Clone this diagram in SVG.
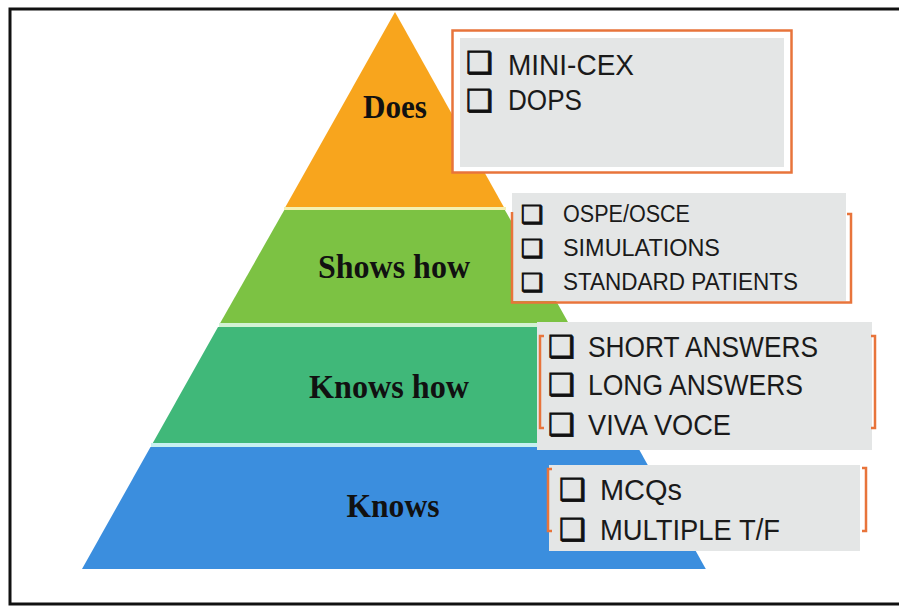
<svg xmlns="http://www.w3.org/2000/svg" width="899" height="608" viewBox="0 0 899 608">
<style>
.lvl{font-family:"Liberation Serif","Times New Roman",serif;font-weight:bold;fill:#111;text-anchor:middle}
.item{font-family:"Liberation Sans",Arial,sans-serif;fill:#1a1a1a}
.cb{font-family:"DejaVu Sans",sans-serif;font-weight:bold;fill:#111;stroke:#111;stroke-width:0.9}
.box{fill:#E4E6E6}
.brk{fill:none;stroke:#E8743B;stroke-width:2.5}
</style>
<rect x="0" y="0" width="899" height="608" fill="#fff"/>
<rect x="10" y="9" width="900" height="595" fill="#fff" stroke="#111" stroke-width="3"/>
<g id="pyramid">
  <g id="does"><polygon points="395,12 503.8,207 285.4,207" fill="#F8A51D"/>
    <text class="lvl" x="395" y="118" font-size="34" textLength="64" lengthAdjust="spacingAndGlyphs">Does</text></g>
  <rect x="284" y="207" width="222" height="3" fill="#F4F0B0"/>
  <g id="shows-how"><polygon points="284.3,210 504.9,210 568.5,323 220.2,323" fill="#7CC243"/>
    <text class="lvl" x="394" y="278" font-size="33" textLength="152" lengthAdjust="spacingAndGlyphs">Shows how</text></g>
  <rect x="219" y="323" width="352" height="4" fill="#D2F2D4"/>
  <g id="knows-how"><polygon points="218,327 570.8,327 635.5,443 152.8,443" fill="#40B879"/>
    <text class="lvl" x="389" y="398" font-size="33" textLength="160" lengthAdjust="spacingAndGlyphs">Knows how</text></g>
  <rect x="151" y="443" width="486" height="4" fill="#C8F0F0"/>
  <g id="knows"><polygon points="150.5,447 637.7,447 705.8,569 82,569" fill="#3B8EDE"/>
    <text class="lvl" x="393" y="517" font-size="33" textLength="93" lengthAdjust="spacingAndGlyphs">Knows</text></g>
</g>
<g id="box-does">
  <rect x="452.5" y="30.5" width="339" height="142" fill="#fff" stroke="#E8743B" stroke-width="2.5"/>
  <rect class="box" x="460" y="38" width="324" height="129"/>
  <text class="cb" x="466" y="73" font-size="30">❑</text>
  <text class="item" x="508" y="75" font-size="30" textLength="126" lengthAdjust="spacingAndGlyphs">MINI-CEX</text>
  <text class="cb" x="466" y="111" font-size="30">❑</text>
  <text class="item" x="508" y="110" font-size="30" textLength="74" lengthAdjust="spacingAndGlyphs">DOPS</text>
</g>
<g id="box-shows-how">
  <rect class="box" x="512" y="193" width="334" height="108"/>
  <path class="brk" d="M512,212 V302.5 H851 V214 H847"/>
  <text class="cb" x="521" y="223" font-size="25">❑</text>
  <text class="item" x="563" y="222" font-size="23" textLength="127" lengthAdjust="spacingAndGlyphs">OSPE/OSCE</text>
  <text class="cb" x="521" y="257" font-size="25">❑</text>
  <text class="item" x="563" y="256" font-size="23" textLength="157" lengthAdjust="spacingAndGlyphs">SIMULATIONS</text>
  <text class="cb" x="521" y="291" font-size="25">❑</text>
  <text class="item" x="563" y="290" font-size="23" textLength="235" lengthAdjust="spacingAndGlyphs">STANDARD PATIENTS</text>
</g>
<g id="box-knows-how">
  <rect class="box" x="537" y="322" width="335" height="128"/>
  <path class="brk" d="M544,336 H540 V428 H544"/>
  <path class="brk" d="M871,336 H875 V428 H871"/>
  <text class="cb" x="548" y="357" font-size="30">❑</text>
  <text class="item" x="588" y="357" font-size="30" textLength="230" lengthAdjust="spacingAndGlyphs">SHORT ANSWERS</text>
  <text class="cb" x="548" y="395" font-size="30">❑</text>
  <text class="item" x="588" y="395" font-size="30" textLength="215" lengthAdjust="spacingAndGlyphs">LONG ANSWERS</text>
  <text class="cb" x="548" y="435" font-size="30">❑</text>
  <text class="item" x="588" y="435" font-size="30" textLength="143" lengthAdjust="spacingAndGlyphs">VIVA VOCE</text>
</g>
<g id="box-knows">
  <rect class="box" x="549" y="465" width="311" height="86"/>
  <path class="brk" d="M552,469 H548 V531 H552"/>
  <path class="brk" d="M862,468 H866 V531 H862"/>
  <text class="cb" x="559" y="500" font-size="30">❑</text>
  <text class="item" x="600" y="500" font-size="29" textLength="82" lengthAdjust="spacingAndGlyphs">MCQs</text>
  <text class="cb" x="559" y="540" font-size="30">❑</text>
  <text class="item" x="600" y="540" font-size="29" textLength="180" lengthAdjust="spacingAndGlyphs">MULTIPLE T/F</text>
</g>
</svg>
